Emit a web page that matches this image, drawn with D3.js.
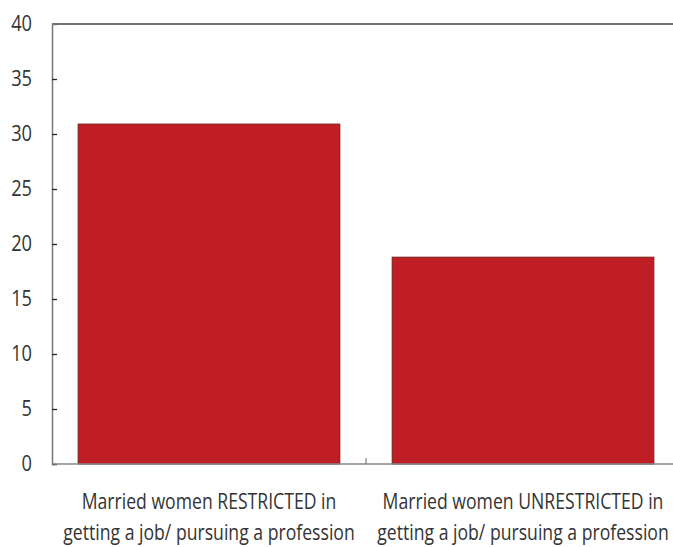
<!DOCTYPE html>
<html>
<head>
<meta charset="utf-8">
<script src="https://cdn.jsdelivr.net/npm/d3@7"></script>
<style>
  body { margin: 0; background: #fff; }
  svg { display: block; }
  .tick text, .cat-label { font-family: 'Open Sans', sans-serif; fill: #333; }
</style>
</head>
<body>
<svg id="chart" width="673" height="547"></svg>
<script>
// chart data
const categories = [
  'Married women RESTRICTED in|getting a job/ pursuing a profession',
  'Married women UNRESTRICTED in|getting a job/ pursuing a profession'
]
const values = [30.9, 18.8]
const yTicks = [0, 5, 10, 15, 20, 25, 30, 35, 40]

const svg = d3.select('#chart')
const margin = {top: 24, right: -7, bottom: 83, left: 52}
const width = 673 - margin.left - margin.right
const height = 547 - margin.top - margin.bottom
const squeeze = 0.84 // condensed look of the original font

const g = svg.append('g').attr('transform', `translate(${margin.left},${margin.top})`)

const x = d3.scaleBand()
  .domain(categories)
  .range([0, width])
  .paddingInner(0.1667)
  .paddingOuter(0.0833)

const xEdge = d3.scaleBand().domain(categories).range([0, width])

const y = d3.scaleLinear().domain([0, 40]).range([height, 0])

// top border line at 40
g.append('line')
  .attr('x1', 0).attr('x2', width)
  .attr('y1', y(40)).attr('y2', y(40))
  .attr('stroke', '#444').attr('stroke-width', 1.3)

// bars
g.selectAll('.bar')
  .data(values)
  .enter().append('rect')
  .attr('class', 'bar')
  .attr('x', (d, i) => x(categories[i]))
  .attr('width', x.bandwidth())
  .attr('y', (d) => y(d))
  .attr('height', (d) => y(0) - y(d))
  .attr('fill', '#be1e24')
  .attr('stroke', '#7a1a1c')
  .attr('stroke-width', 1)

// y axis
const yAxis = g.append('g')
  .call(d3.axisLeft(y).tickValues(yTicks).tickSize(-5).tickPadding(20))
yAxis.select('.domain').attr('stroke', '#777').attr('stroke-width', 1.5)
yAxis.selectAll('.tick line').attr('stroke', '#222').attr('stroke-width', 1.3)
yAxis.selectAll('.tick text')
  .style('font-size', '21px')
  .attr('text-anchor', 'end')
  .attr('x', -20 / 0.87)
  .attr('transform', 'scale(0.87,1)')
yAxis.selectAll('.tick').filter((d) => d === 40).select('line').remove()

// x axis baseline
g.append('line')
  .attr('x1', 0).attr('x2', width)
  .attr('y1', y(0)).attr('y2', y(0))
  .attr('stroke', '#888').attr('stroke-width', 1.5)

// category boundary ticks
g.selectAll('.cat-tick')
  .data(categories.slice(1))
  .enter().append('line')
  .attr('class', 'cat-tick')
  .attr('x1', (d) => xEdge(d)).attr('x2', (d) => xEdge(d))
  .attr('y1', y(0)).attr('y2', y(0) - 6)
  .attr('stroke', '#666')

// category labels
const labels = g.selectAll('.cat-label')
  .data(categories)
  .enter().append('g')
  .attr('transform', (d) => `translate(${xEdge(d) + xEdge.bandwidth() / 2},${y(0) + 45}) scale(${squeeze},1)`)
  .append('text')
  .attr('class', 'cat-label')
  .attr('text-anchor', 'middle')
  .style('font-size', '21px')
labels.selectAll('tspan')
  .data((d) => d.split('|'))
  .enter().append('tspan')
  .attr('x', 0)
  .attr('dy', (d, i) => i === 0 ? 0 : 31)
  .text((d) => d)
</script>
</body>
</html>
